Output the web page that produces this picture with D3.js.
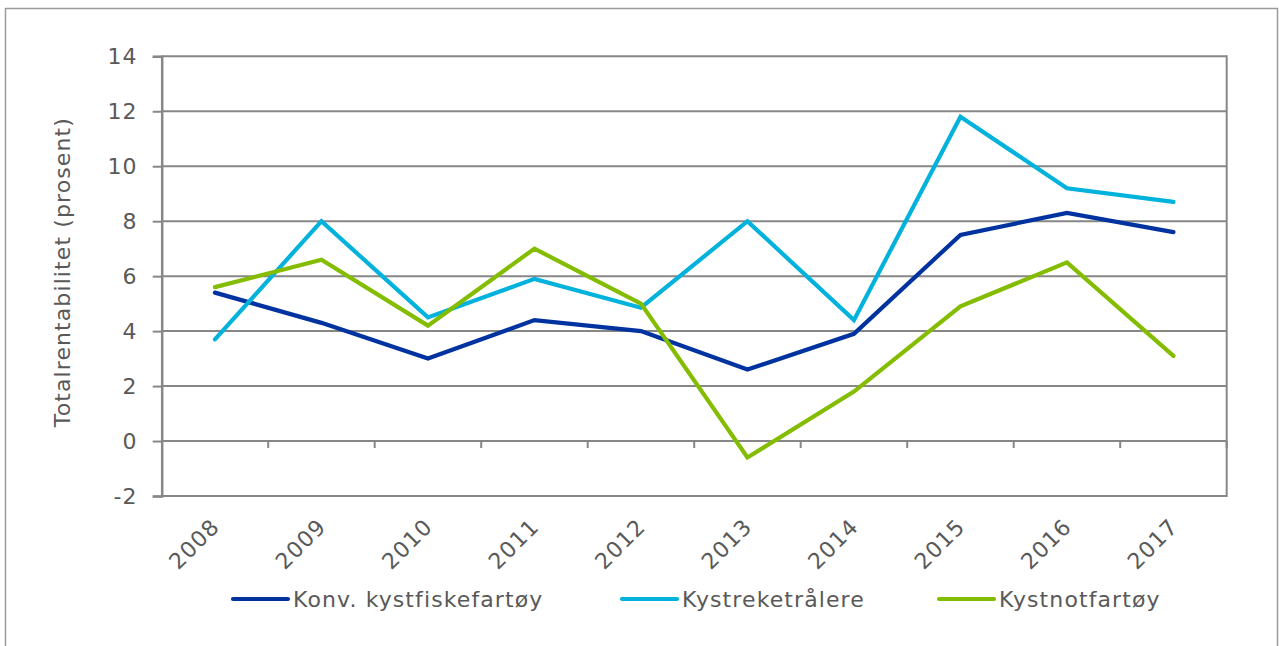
<!DOCTYPE html>
<html>
<head>
<meta charset="utf-8">
<script src="https://cdn.jsdelivr.net/npm/d3@7"></script>
<style>
  html, body { margin: 0; padding: 0; background: #fff; }
  svg { display: block; }
  text { font-family: "DejaVu Sans", Verdana, sans-serif; fill: #595959; letter-spacing: 1.1px; }
</style>
</head>
<body>
<svg id="chart" width="1279" height="646"></svg>
<script>
const years = ["2008","2009","2010","2011","2012","2013","2014","2015","2016","2017"];
const konv = [5.4, 4.3, 3.0, 4.4, 4.0, 2.6, 3.9, 7.5, 8.3, 7.6];
const reke = [3.7, 8.0, 4.5, 5.9, 4.85, 8.0, 4.4, 11.8, 9.2, 8.7];
const not  = [5.6, 6.6, 4.2, 7.0, 5.0, -0.6, 1.8, 4.9, 6.5, 3.1];
const seriesNames = ["Konv. kystfiskefartøy", "Kystreketrålere", "Kystnotfartøy"];
const seriesColors = ["#0033a0", "#00b2dc", "#84bd00"];
const yTicks = [-2, 0, 2, 4, 6, 8, 10, 12, 14];
const yTitle = "Totalrentabilitet (prosent)";

const series = [konv, reke, not];
const svg = d3.select("#chart");
const gridColor = "#878787";
const FS = "22px";

// outer border
svg.append("rect").attr("x", 5.5).attr("y", 8.5).attr("width", 1272).attr("height", 660)
  .attr("fill", "none").attr("stroke", "#9a9a9a").attr("stroke-width", 1.5);

const L = 161.7, R = 1226.7, T = 56.3, B = 496;
const x = d3.scaleBand().domain(years).range([L, R]);
const y = d3.scaleLinear().domain([-2, 14]).range([B, T]);

// gridlines
const grid = svg.append("g");
grid.selectAll("line").data(yTicks).join("line")
  .attr("x1", L).attr("x2", R).attr("y1", d => y(d)).attr("y2", d => y(d))
  .attr("stroke", gridColor).attr("stroke-width", 2);
// right border of plot
grid.append("line").attr("x1", R).attr("x2", R).attr("y1", T - 1).attr("y2", B + 1)
  .attr("stroke", gridColor).attr("stroke-width", 2);

// y axis
const yAxis = d3.axisLeft(y).tickValues(yTicks).tickSize(9).tickPadding(15).tickFormat(d => String(d));
const gy = svg.append("g").attr("transform", `translate(${L},0)`).call(yAxis);
gy.select(".domain").attr("stroke", gridColor).attr("stroke-width", 2.5);
gy.selectAll(".tick line").attr("stroke", gridColor).attr("stroke-width", 2);
gy.selectAll(".tick text").style("font-size", FS).attr("fill", "#595959")
  .style("font-family", '"DejaVu Sans", Verdana, sans-serif');

// x axis at zero with boundary ticks
const bounds = years.map(d => x(d)).concat([R]).slice(1);
const xAxisG = svg.append("g");
xAxisG.selectAll("line").data(bounds).join("line")
  .attr("x1", d => d).attr("x2", d => d).attr("y1", y(0)).attr("y2", y(0) + 7)
  .attr("stroke", gridColor).attr("stroke-width", 2);

// x labels
svg.append("g").selectAll("text").data(years).join("text")
  .attr("transform", d => `translate(${x(d) + x.bandwidth() / 2 + 6},${B + 32}) rotate(-45)`)
  .attr("text-anchor", "end")
  .style("font-size", FS)
  .text(d => d);

// y title
svg.append("text")
  .attr("transform", `translate(69.5,${(T + B) / 2 - 4}) rotate(-90)`)
  .attr("text-anchor", "middle")
  .style("font-size", FS)
  .text(yTitle);

// lines
const line = d3.line().x((d, i) => x(years[i]) + x.bandwidth() / 2).y(d => y(d));
svg.append("g").selectAll("path").data(series).join("path")
  .attr("d", d => line(d))
  .attr("fill", "none")
  .attr("stroke", (d, i) => seriesColors[i])
  .attr("stroke-width", 4.2)
  .attr("stroke-linejoin", "miter")
  .attr("stroke-linecap", "round");

// legend
const legX = [233, 622, 939];
const leg = svg.append("g").selectAll("g").data(seriesNames).join("g")
  .attr("transform", (d, i) => `translate(${legX[i]},599)`);
leg.append("line").attr("x1", 0).attr("x2", 55).attr("y1", 0).attr("y2", 0)
  .attr("stroke", (d, i) => seriesColors[i]).attr("stroke-width", 4.2).attr("stroke-linecap", "round");
leg.append("text").attr("x", 60).attr("y", 8).style("font-size", FS).text(d => d);
</script>
</body>
</html>
